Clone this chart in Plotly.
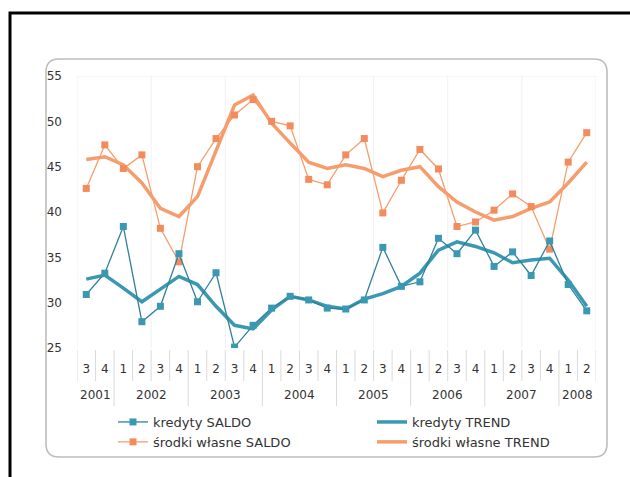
import plotly.graph_objects as go

# Quarterly survey balances, 2001 Q3 - 2008 Q2
years = ["2001"] * 2 + ["2002"] * 4 + ["2003"] * 4 + ["2004"] * 4 + \
        ["2005"] * 4 + ["2006"] * 4 + ["2007"] * 4 + ["2008"] * 2
quarters = ["3", "4"] + ["1", "2", "3", "4"] * 6 + ["1", "2"]

kredyty_saldo = [30.9, 33.25, 38.4, 27.9, 29.6, 35.4, 30.1, 33.3, 25.1, 27.5,
                 29.4, 30.7, 30.3, 29.4, 29.3, 30.3, 36.1, 31.8, 32.3, 37.1,
                 35.4, 38.0, 34.0, 35.6, 33.0, 36.8, 32.0, 29.1]
kredyty_trend = [32.6, 33.05, 31.6, 30.1, 31.5, 32.9, 32.0, 29.6, 27.5, 27.1,
                 29.2, 30.7, 30.3, 29.6, 29.3, 30.4, 31.0, 31.8, 33.25, 35.8,
                 36.7, 36.2, 35.5, 34.4, 34.7, 34.9, 32.5, 29.6]
srodki_saldo = [42.6, 47.4, 44.8, 46.3, 38.2, 34.5, 45.0, 48.1, 50.7, 52.4,
                50.0, 49.5, 43.6, 43.0, 46.3, 48.1, 39.9, 43.5, 46.9, 44.75,
                38.4, 38.9, 40.2, 42.0, 40.6, 35.9, 45.5, 48.75]
srodki_trend = [45.8, 46.1, 45.2, 43.2, 40.4, 39.5, 41.7, 46.8, 51.8, 52.9,
                49.8, 47.6, 45.5, 44.8, 45.2, 44.8, 43.9, 44.6, 45.0, 42.8,
                41.1, 40.0, 39.1, 39.5, 40.4, 41.1, 43.2, 45.5]

y_ticks = [25, 30, 35, 40, 45, 50, 55]

BLUE = "#3a98b3"
BLUE_DARK = "#2f8199"
ORANGE = "#f69d6e"
ORANGE_MARK = "#f48b5c"
FONT = "DejaVu Sans"
TEXT = "#333333"

W, H = 630, 477
ML, MR, MT, MB = 77, 34, 76, 129
PW, PH = W - ML - MR, H - MT - MB


def px_x(v):
    return (v - ML) / PW


def px_y(v):
    return (H - MB - v) / PH


pos = list(range(len(quarters)))

fig = go.Figure()
fig.add_trace(go.Scatter(
    x=pos, y=srodki_trend, name="środki własne TREND", mode="lines",
    line=dict(color=ORANGE, width=3.5), legendrank=4))
fig.add_trace(go.Scatter(
    x=pos, y=srodki_saldo, name="środki własne SALDO", mode="lines+markers",
    line=dict(color=ORANGE, width=1.3),
    marker=dict(symbol="square", size=7, color=ORANGE_MARK), legendrank=3))
fig.add_trace(go.Scatter(
    x=pos, y=kredyty_trend, name="kredyty TREND", mode="lines",
    line=dict(color=BLUE, width=3.5), legendrank=2))
fig.add_trace(go.Scatter(
    x=pos, y=kredyty_saldo, name="kredyty SALDO", mode="lines+markers",
    line=dict(color=BLUE_DARK, width=1.3),
    marker=dict(symbol="square", size=7, color=BLUE), legendrank=1))

# rounded frame around the chart
bx0, bx1, by0, by1, r = 46, 607, 59, 457, 13
path = (
    f"M {px_x(bx0 + r)},{px_y(by0)} L {px_x(bx1 - r)},{px_y(by0)} "
    f"Q {px_x(bx1)},{px_y(by0)} {px_x(bx1)},{px_y(by0 + r)} "
    f"L {px_x(bx1)},{px_y(by1 - r)} "
    f"Q {px_x(bx1)},{px_y(by1)} {px_x(bx1 - r)},{px_y(by1)} "
    f"L {px_x(bx0 + r)},{px_y(by1)} "
    f"Q {px_x(bx0)},{px_y(by1)} {px_x(bx0)},{px_y(by1 - r)} "
    f"L {px_x(bx0)},{px_y(by0 + r)} "
    f"Q {px_x(bx0)},{px_y(by0)} {px_x(bx0 + r)},{px_y(by0)} Z"
)
shapes = [
    dict(type="path", xref="paper", yref="paper", path=path,
         line=dict(color="#bdbdbd", width=1.6), layer="below"),
    # outer page frame
    dict(type="rect", xref="paper", yref="paper",
         x0=px_x(10), x1=px_x(660), y0=px_y(13), y1=px_y(500),
         line=dict(color="black", width=3), layer="below"),
    # faint top border of the plot area
    dict(type="line", xref="paper", yref="y", x0=0, x1=1, y0=55, y1=55,
         line=dict(color="#ededed", width=1), layer="below"),
]

# faint separators between quarter labels, longer ones between years
for i in range(len(quarters) + 1):
    xb = i - 0.5
    boundary = 0 < i < len(quarters) and years[i] != years[i - 1]
    shapes.append(dict(
        type="line", xref="x", yref="paper", x0=xb, x1=xb,
        y0=px_y(350), y1=px_y(406 if boundary else 381),
        line=dict(color="#dadada", width=1), layer="below"))
    if i % 4 == 0:
        shapes.append(dict(
            type="line", xref="x", yref="paper", x0=xb, x1=xb,
            y0=0, y1=1, line=dict(color="#f1f1f1", width=1), layer="below"))

# year labels centred under their quarters
annotations = []
for yr in dict.fromkeys(years):
    idx = [i for i, v in enumerate(years) if v == yr]
    annotations.append(dict(
        x=sum(idx) / len(idx), y=px_y(395), xref="x", yref="paper",
        text=yr, showarrow=False, xanchor="center", yanchor="middle",
        font=dict(family=FONT, size=12, color=TEXT)))

fig.update_layout(
    width=W, height=H,
    margin=dict(l=ML, r=MR, t=MT, b=MB, autoexpand=False),
    paper_bgcolor="white", plot_bgcolor="white",
    font=dict(family=FONT, size=12, color=TEXT),
    shapes=shapes, annotations=annotations,
    showlegend=True,
    legend=dict(orientation="h", x=px_x(113), y=px_y(407),
                xanchor="left", yanchor="top", entrywidth=214,
                font=dict(family=FONT, size=13, color=TEXT),
                bgcolor="rgba(0,0,0,0)", tracegroupgap=0),
    xaxis=dict(range=[-0.5, len(quarters) - 0.5], tickvals=pos,
               ticktext=quarters, showgrid=False, showline=False,
               zeroline=False, ticks="", ticklabelstandoff=12,
               tickfont=dict(size=12, color=TEXT)),
    yaxis=dict(range=[25, 55], tickvals=y_ticks, showgrid=False,
               zeroline=False, showline=False, ticks="",
               ticklabelstandoff=14, tickfont=dict(size=12, color=TEXT)),
)

fig.write_html("out.html")
